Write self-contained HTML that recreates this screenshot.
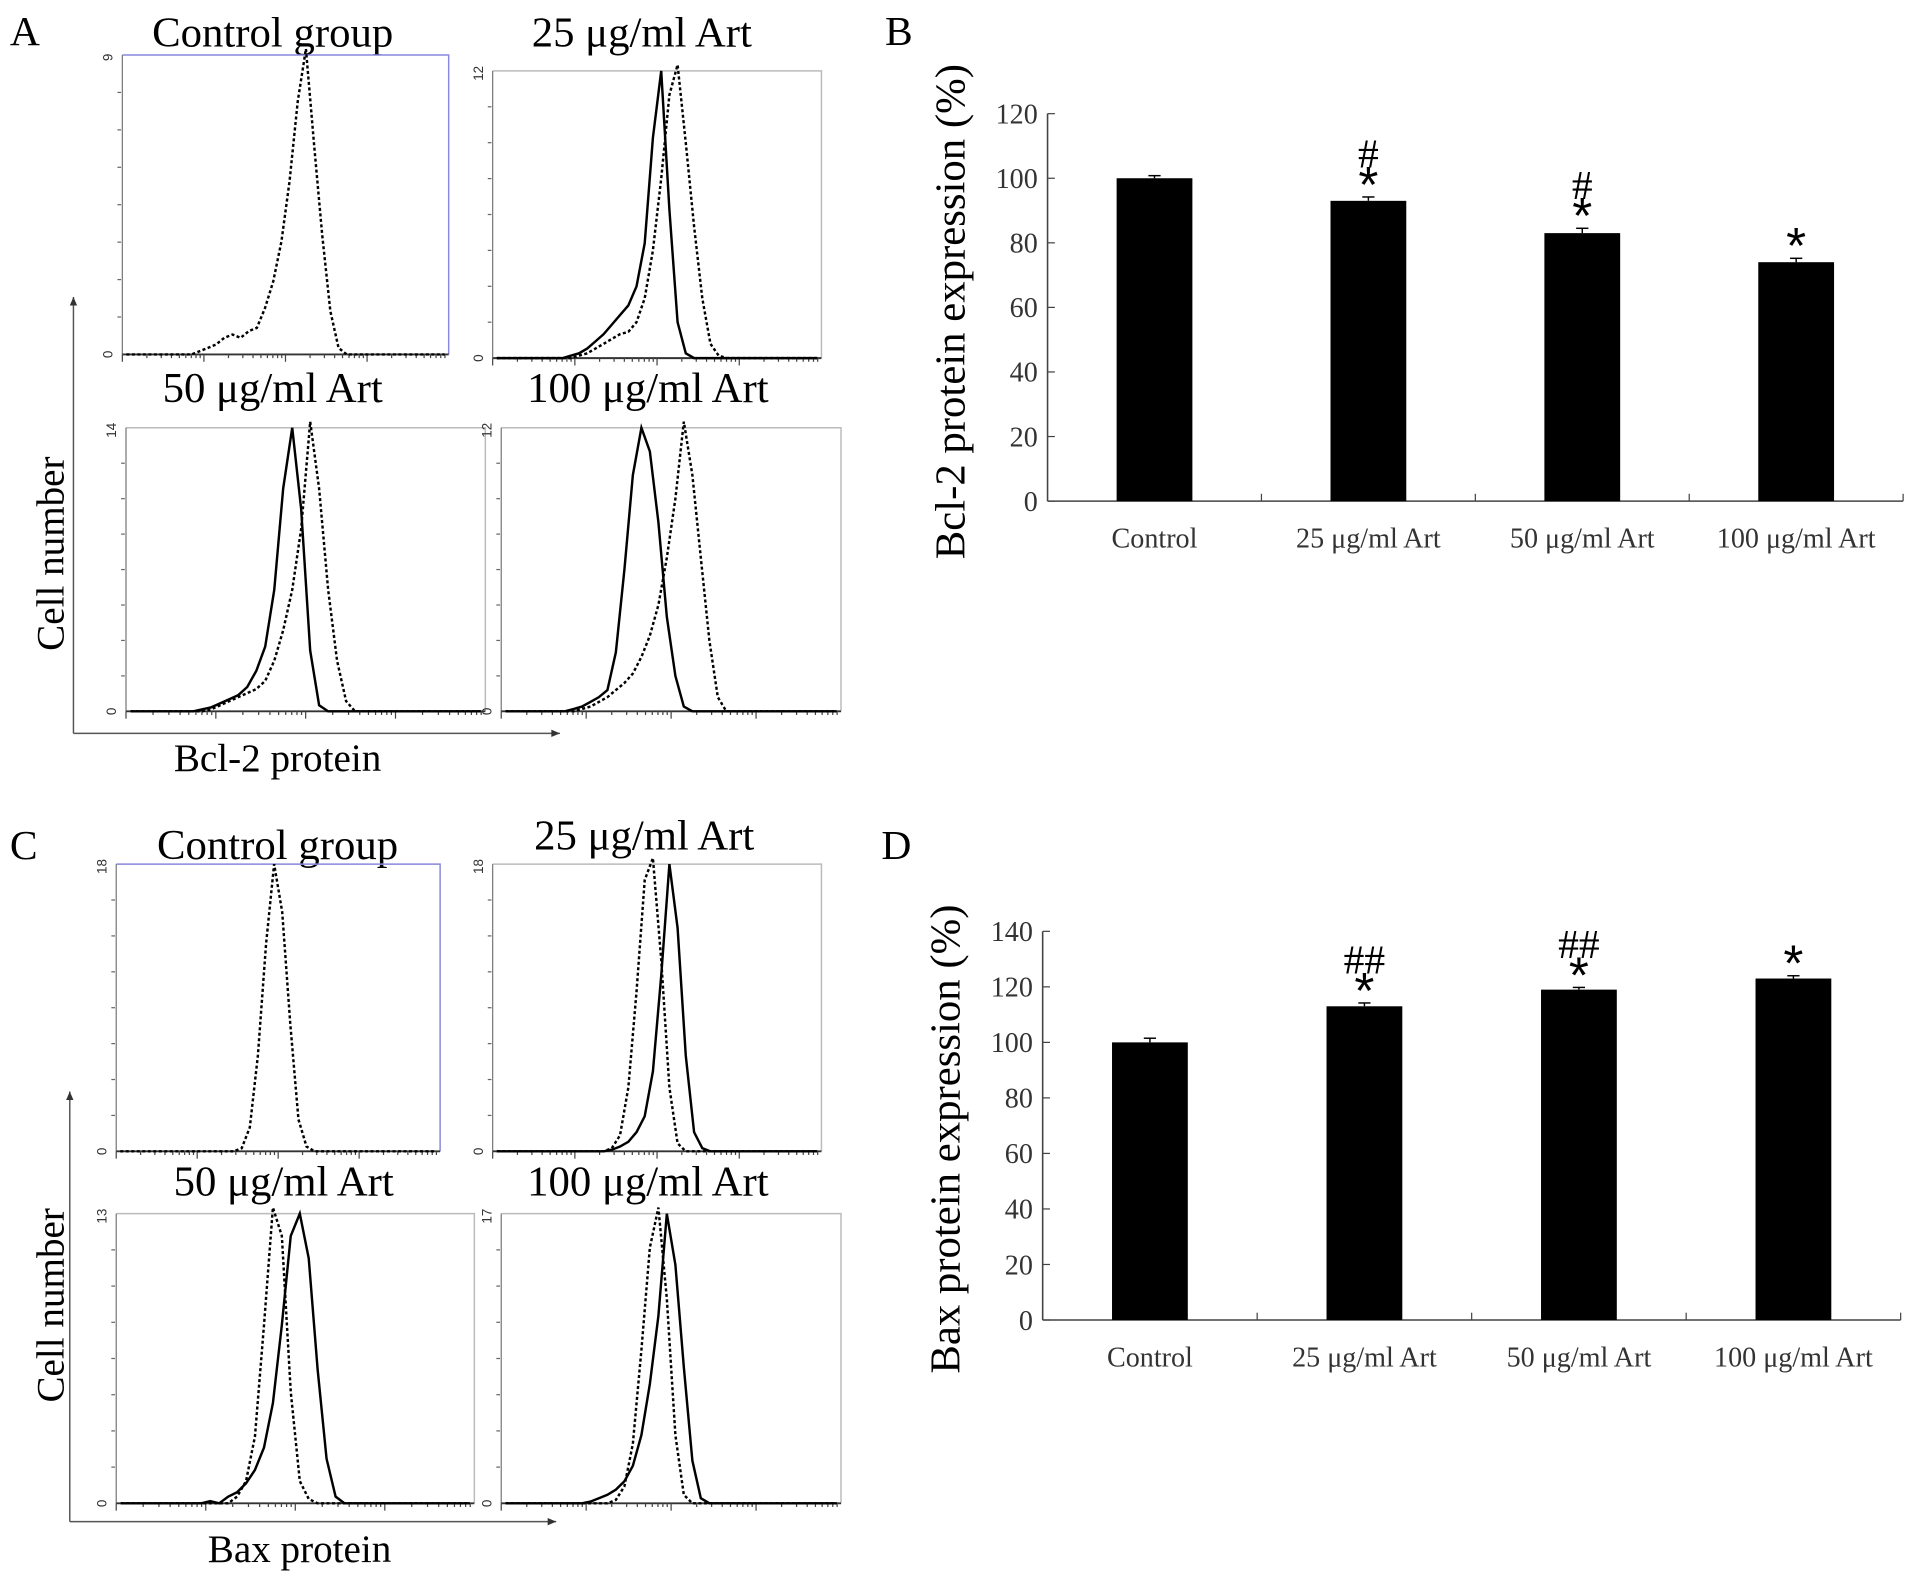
<!DOCTYPE html>
<html><head><meta charset="utf-8"><style>
html,body{margin:0;padding:0;background:#fff}
svg{display:block;font-family:"Liberation Serif",serif}
</style></head><body>
<svg id="fig" width="1913" height="1584" viewBox="0 0 1565 1296" xmlns="http://www.w3.org/2000/svg">
<g id="static">
<text x="8" y="37" font-size="34">A</text>
<text x="724" y="37" font-size="34">B</text>
<text x="8" y="703" font-size="34">C</text>
<text x="721" y="703" font-size="34">D</text>
</g>
<g id="hists"></g>
<g id="bars"></g>
</svg>
<script>
// ---- Histogram data (40 bins, cell counts) ----
const histMaxA = [9, 12, 14, 12];
const histMaxC = [18, 18, 13, 17];
const histTitles = ["Control group", "25 μg/ml Art", "50 μg/ml Art", "100 μg/ml Art"];
function bins(o){const a=new Array(40).fill(0);for(const k in o)a[k]=o[k];return a;}
const aCtrlDot = bins({9:0.1,10:0.2,11:0.3,12:0.5,13:0.6,14:0.5,15:0.7,16:0.8,17:1.4,18:2.2,19:3.4,20:5.2,21:7.6,22:9.4,23:6.3,24:3.6,25:1.3,26:0.2});
const a25Sol  = bins({9:0.1,10:0.2,11:0.4,12:0.7,13:1.0,14:1.4,15:1.8,16:2.2,17:3.0,18:4.8,19:9.2,20:12,21:6.2,22:1.5,23:0.2});
const a25Dot  = bins({10:0.1,11:0.2,12:0.4,13:0.6,14:0.8,15:1.0,16:1.1,17:1.5,18:2.5,19:4.5,20:7.5,21:11,22:13,23:9,24:5.5,25:2.5,26:0.6,27:0.1});
const a50Sol  = bins({8:0.1,9:0.2,10:0.4,11:0.6,12:0.8,13:1.2,14:2.0,15:3.2,16:6.0,17:11,18:14,19:10,20:3,21:0.3});
const a50Dot  = bins({9:0.1,10:0.3,11:0.5,12:0.7,13:0.9,14:1.1,15:1.5,16:2.5,17:4,18:6,19:9,20:14.5,21:11,22:6,23:2.5,24:0.5});
const a100Sol = bins({8:0.1,9:0.2,10:0.4,11:0.6,12:0.9,13:2.5,14:6,15:10,16:12,17:11,18:8,19:4,20:1.5,21:0.2});
const a100Dot = bins({9:0.1,10:0.2,11:0.4,12:0.6,13:0.9,14:1.2,15:1.6,16:2.3,17:3.2,18:4.5,19:6.5,20:9,21:12.5,22:10,23:6.5,24:3,25:0.6});
const cCtrlDot = bins({15:0.2,16:1.5,17:6,18:13,19:18,20:15,21:8,22:2,23:0.3});
const c25Sol  = bins({14:0.1,15:0.3,16:0.6,17:1.2,18:2.2,19:5,20:11,21:18,22:14,23:6,24:1.2,25:0.2});
const c25Dot  = bins({14:0.2,15:1,16:4,17:10,18:17,19:18.5,20:12,21:4,22:0.5});
const c50Sol  = bins({10:0.1,12:0.3,13:0.5,14:0.9,15:1.5,16:2.5,17:4.5,18:8,19:12,20:13,21:11,22:6,23:2,24:0.3});
const c50Dot  = bins({13:0.3,14:1,15:3,16:8,17:13.5,18:12,19:5,20:1,21:0.2});
const c100Sol = bins({10:0.1,11:0.3,12:0.5,13:0.8,14:1.3,15:2.2,16:4,17:7,18:11,19:17,20:14,21:8,22:2.5,23:0.3});
const c100Dot = bins({13:0.2,14:1,15:3.5,16:9,17:15,18:17.5,19:12,20:4,21:0.5});

// ---- Bar chart data ----
const groups = ["Control", "25 μg/ml Art", "50 μg/ml Art", "100 μg/ml Art"];
const bcl2Values = [100, 93, 83, 74];
const bcl2Errors = [0.8, 1.2, 1.5, 1.2];
const bcl2Stars = ["", "*", "*", "*"];
const bcl2Hash = ["", "#", "#", ""];
const bcl2Ticks = [0, 20, 40, 60, 80, 100, 120];
const baxValues = [100, 113, 119, 123];
const baxErrors = [1.5, 1.2, 0.8, 1.0];
const baxStars = ["", "*", "*", "*"];
const baxHash = ["", "##", "##", ""];
const baxTicks = [0, 20, 40, 60, 80, 100, 120, 140];

const NS="http://www.w3.org/2000/svg";
function mk(tag, parent, attrs){const e=document.createElementNS(NS,tag);for(const k in attrs)e.setAttribute(k,attrs[k]);parent.appendChild(e);return e;}

const H=document.getElementById('hists');
function histPanel(box, ymax, title, titleX, titleY, curves, boxColor, name){
  const g=mk('g',H,{});
  
  
  const [x0,y0,x1,y1]=box;
  const t=mk('text',g,{x:titleX,y:titleY,'font-size':35,'text-anchor':'middle'});
  t.textContent=title;
  
  
  mk('polyline',g,{points:`${x0},${y0} ${x1},${y0} ${x1},${y1}`,fill:'none',stroke:boxColor,'stroke-width':1.2});
  mk('line',g,{x1:x0,y1:y0,x2:x0,y2:y1,stroke:'#777','stroke-width':1});
  mk('line',g,{x1:x0,y1:y1,x2:x1,y2:y1,stroke:'#333','stroke-width':1.6});
  for(let k=1;k<8;k++){const yy=y1-(y1-y0)*k/8;mk('line',g,{x1:x0-4,y1:yy,x2:x0-1,y2:yy,stroke:'#666','stroke-width':1});}
  for(let d=0;d<4;d++){for(let m=1;m<10;m++){const xx=x0+(x1-x0)*(d+Math.log10(m))/4;mk('line',g,{x1:xx,y1:y1,x2:xx,y2:y1+(m==1?6:3),stroke:'#444','stroke-width':1});}}
  const l0=mk('text',g,{x:0,y:0,'font-size':11,'font-family':'Liberation Sans, sans-serif',transform:`translate(${x0-8},${y1}) rotate(-90)`,'text-anchor':'middle',fill:'#333'});l0.textContent='0';
  const lm=mk('text',g,{x:0,y:0,'font-size':11,'font-family':'Liberation Sans, sans-serif',transform:`translate(${x0-8},${y0+2}) rotate(-90)`,'text-anchor':'middle',fill:'#333'});lm.textContent=String(ymax);
  const sx=i=>x0+(i+0.5)/40*(x1-x0);
  const sy=v=>y1-v/ymax*(y1-y0);
  curves.forEach(c=>{
    const pts=c.data.map((v,i)=>`${sx(i).toFixed(1)},${Math.max(sy(v),y0-5).toFixed(1)}`).join(' ');
    const p=mk('polyline',g,{points:pts,fill:'none',stroke:'#000','stroke-width':2,'stroke-dasharray':c.dot?'2.5,2':'none'});
    
    
  });
}
histPanel([100,45,367,290],histMaxA[0],histTitles[0],223,38,[{data:aCtrlDot,dot:1}],'#8888dd','hist-a-control');
histPanel([403,58,672,293],histMaxA[1],histTitles[1],525,38,[{data:a25Dot,dot:1},{data:a25Sol}],'#bbb','hist-a-25');
histPanel([103,350,397,582],histMaxA[2],histTitles[2],223,329,[{data:a50Dot,dot:1},{data:a50Sol}],'#bbb','hist-a-50');
histPanel([410,350,688,582],histMaxA[3],histTitles[3],530,329,[{data:a100Dot,dot:1},{data:a100Sol}],'#bbb','hist-a-100');
histPanel([95,707,360,942],histMaxC[0],histTitles[0],227,703,[{data:cCtrlDot,dot:1}],'#8888dd','hist-c-control');
histPanel([403,707,672,942],histMaxC[1],histTitles[1],527,695,[{data:c25Dot,dot:1},{data:c25Sol}],'#bbb','hist-c-25');
histPanel([95,993,388,1230],histMaxC[2],histTitles[2],232,978,[{data:c50Dot,dot:1},{data:c50Sol}],'#bbb','hist-c-50');
histPanel([410,993,688,1230],histMaxC[3],histTitles[3],530,978,[{data:c100Dot,dot:1},{data:c100Sol}],'#bbb','hist-c-100');

function bigAxes(x,yTop,yBot,xRight,label,labelX,labelY,cellY,name){
  const g=mk('g',H,{});
  
  
  mk('line',g,{x1:x,y1:yBot,x2:x,y2:yTop,stroke:'#555','stroke-width':1.2});
  mk('polygon',g,{points:`${x-3},${yTop+7} ${x+3},${yTop+7} ${x},${yTop}`,fill:'#333'});
  mk('line',g,{x1:x,y1:yBot,x2:xRight,y2:yBot,stroke:'#555','stroke-width':1.2});
  mk('polygon',g,{points:`${xRight-7},${yBot-3} ${xRight-7},${yBot+3} ${xRight},${yBot}`,fill:'#333'});
  const t=mk('text',g,{x:labelX,y:labelY,'font-size':32,'text-anchor':'middle'});t.textContent=label;
  const c=mk('text',g,{x:0,y:0,'font-size':32,'text-anchor':'middle',transform:`translate(52,${cellY}) rotate(-90)`});c.textContent='Cell number';
}
bigAxes(60,243,600,458,'Bcl-2 protein',227,631,453,'bcl2-flow-axes');
bigAxes(57,893,1245,455,'Bax protein',245,1278,1068,'bax-flow-axes');

const B=document.getElementById('bars');
function barChart(o){
  const g=mk('g',B,{});
  
  
  const {ax,y0,yTop,xEnd,tmax}=o;
  const sy=v=>y0-v/tmax*(y0-yTop);
  const step=(xEnd-ax)/4;
  const cx=i=>ax+step*(i+0.5);
  mk('line',g,{x1:ax,y1:y0,x2:ax,y2:yTop,stroke:'#444','stroke-width':1.3});
  mk('line',g,{x1:ax,y1:y0,x2:xEnd,y2:y0,stroke:'#444','stroke-width':1.3});
  for(let i=1;i<4;i++){mk('line',g,{x1:ax+step*i,y1:y0,x2:ax+step*i,y2:y0-6,stroke:'#444','stroke-width':1});}
  mk('line',g,{x1:xEnd,y1:y0,x2:xEnd,y2:y0-6,stroke:'#444','stroke-width':1});
  o.ticks.forEach(t=>{
    mk('line',g,{x1:ax,y1:sy(t),x2:ax+6,y2:sy(t),stroke:'#444','stroke-width':1});
    const tl=mk('text',g,{x:ax-8,y:sy(t)+8,'font-size':23,'text-anchor':'end',fill:'#333'});tl.textContent=t;
    
    
  });
  o.values.forEach((v,i)=>{
    const r=mk('rect',g,{x:cx(i)-31,y:sy(v),width:62,height:y0-sy(v),fill:'#000'});
    
    
    const e=o.errors[i];
    mk('line',g,{x1:cx(i),y1:sy(v+e),x2:cx(i),y2:sy(v),stroke:'#000','stroke-width':1.2});
    mk('line',g,{x1:cx(i)-5,y1:sy(v+e),x2:cx(i)+5,y2:sy(v+e),stroke:'#000','stroke-width':1.2});
    const xl=mk('text',g,{x:cx(i),y:y0+38,'font-size':23,'text-anchor':'middle',fill:'#333'});xl.textContent=groups[i];
    
    
    if(o.stars[i]){const s=mk('text',g,{x:cx(i),y:sy(v+e)+4,'font-size':42,'text-anchor':'middle','font-family':'Liberation Sans, sans-serif'});s.textContent=o.stars[i];
      
      }
    if(o.hash[i]){const h=mk('text',g,{x:cx(i),y:sy(v+e)-24,'font-size':34,'text-anchor':'middle'});h.textContent=o.hash[i];
      
      }
  });
  const yl=mk('text',g,{x:0,y:0,'font-size':o.lsize,'text-anchor':'middle',transform:`translate(${o.lx},${o.ly}) rotate(-90)`});yl.textContent=o.label;
  
  
}
barChart({name:'bcl2-bar-chart',ax:857,y0:410,yTop:93,xEnd:1557,tmax:120,ticks:bcl2Ticks,values:bcl2Values,errors:bcl2Errors,stars:bcl2Stars,hash:bcl2Hash,label:'Bcl-2 protein expression (%)',lx:789,ly:255,lsize:35});
barChart({name:'bax-bar-chart',ax:853,y0:1080,yTop:762,xEnd:1555,tmax:140,ticks:baxTicks,values:baxValues,errors:baxErrors,stars:baxStars,hash:baxHash,label:'Bax protein expression (%)',lx:785,ly:932,lsize:35});
</script>
</body></html>
